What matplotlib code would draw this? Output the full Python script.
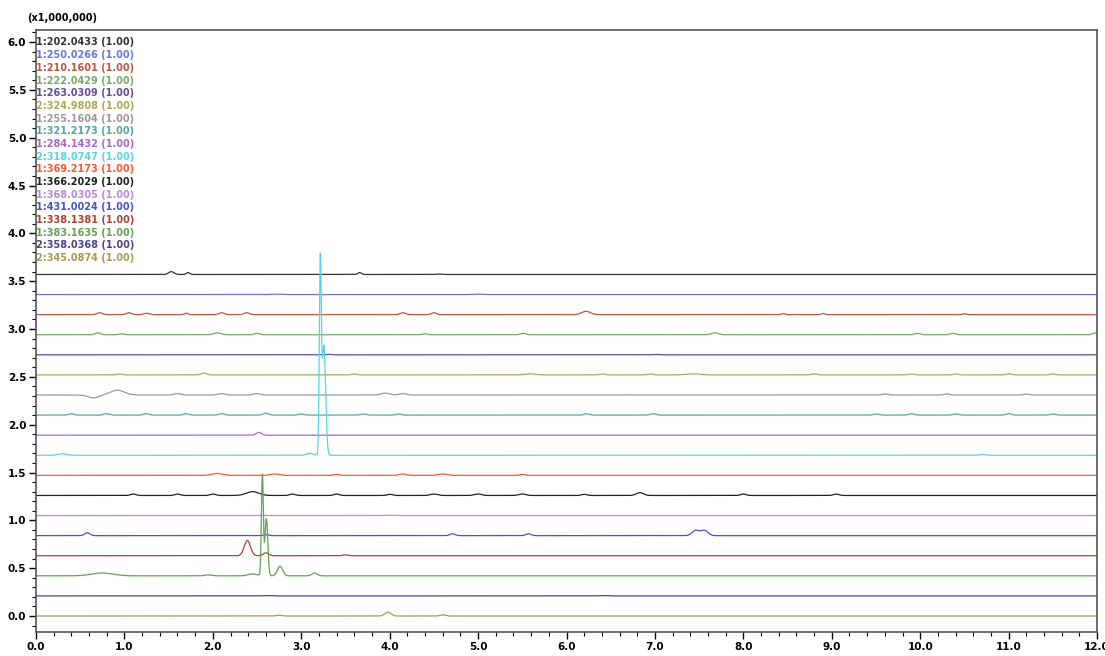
import numpy as np
import matplotlib.pyplot as plt

# legend labels, top to bottom (same order as traces from top to bottom)
labels = [
    "1:202.0433 (1.00)", "1:250.0266 (1.00)", "1:210.1601 (1.00)", "1:222.0429 (1.00)",
    "1:263.0309 (1.00)", "2:324.9808 (1.00)", "1:255.1604 (1.00)", "1:321.2173 (1.00)",
    "1:284.1432 (1.00)", "2:318.0747 (1.00)", "1:369.2173 (1.00)", "1:366.2029 (1.00)",
    "1:368.0305 (1.00)", "1:431.0024 (1.00)", "1:338.1381 (1.00)", "1:383.1635 (1.00)",
    "2:358.0368 (1.00)", "2:345.0874 (1.00)",
]
colors = [
    "#333333", "#6677dd", "#bb5544", "#77aa66",
    "#5e5095", "#aaaa55", "#999999", "#55a5a5",
    "#aa66cc", "#55d5e0", "#ff5533", "#222222",
    "#bb88dd", "#4455cc", "#aa4433", "#66a055",
    "#4e4090", "#aa9955",
]
# baseline of each trace (x1,000,000), top to bottom
baselines = [3.57, 3.36, 3.15, 2.94, 2.73, 2.52, 2.31, 2.10, 1.89, 1.68,
             1.47, 1.26, 1.05, 0.84, 0.63, 0.42, 0.21, 0.0]

# peaks: (retention time min, height x1e6, width min)
peaks = [
    [(1.53, 0.03, 0.03), (1.72, 0.02, 0.02), (3.66, 0.02, 0.02), (4.55, 0.005, 0.03)],
    [(2.7, 0.004, 0.05), (5.0, 0.004, 0.05)],
    [(0.72, 0.02, 0.03), (1.05, 0.02, 0.03), (1.25, 0.015, 0.03), (1.7, 0.015, 0.02),
     (2.1, 0.02, 0.03), (2.38, 0.02, 0.03), (4.15, 0.02, 0.03), (4.5, 0.02, 0.03),
     (6.22, 0.035, 0.05), (8.45, 0.012, 0.02), (8.9, 0.012, 0.02), (10.5, 0.01, 0.02)],
    [(0.7, 0.02, 0.03), (0.97, 0.01, 0.03), (2.05, 0.02, 0.04), (2.5, 0.015, 0.03),
     (4.4, 0.01, 0.03), (5.51, 0.015, 0.03), (7.68, 0.02, 0.04), (9.97, 0.015, 0.03),
     (10.37, 0.015, 0.03), (11.98, 0.02, 0.03)],
    [(3.3, 0.005, 0.03), (7.0, 0.004, 0.03)],
    [(0.95, 0.01, 0.03), (1.9, 0.02, 0.03), (3.6, 0.01, 0.03), (5.59, 0.012, 0.06),
     (6.41, 0.01, 0.03), (6.95, 0.01, 0.03), (7.43, 0.012, 0.08), (8.8, 0.012, 0.03),
     (9.9, 0.01, 0.03), (10.4, 0.01, 0.03), (11.0, 0.012, 0.03), (11.5, 0.01, 0.03)],
    [(0.65, -0.03, 0.06), (0.92, 0.05, 0.08), (1.6, 0.015, 0.04), (2.1, 0.015, 0.04),
     (2.5, 0.015, 0.04), (3.95, 0.02, 0.05), (4.15, 0.015, 0.04), (9.6, 0.012, 0.03),
     (10.3, 0.012, 0.03), (11.2, 0.01, 0.03)],
    [(0.4, 0.015, 0.03), (0.8, 0.015, 0.03), (1.25, 0.015, 0.03), (1.7, 0.015, 0.03),
     (2.1, 0.015, 0.03), (2.6, 0.02, 0.03), (3.0, 0.012, 0.03), (3.7, 0.012, 0.03),
     (4.1, 0.012, 0.03), (6.23, 0.015, 0.03), (6.98, 0.015, 0.03), (9.5, 0.012, 0.03),
     (9.9, 0.015, 0.03), (10.4, 0.012, 0.03), (11.0, 0.015, 0.03), (11.5, 0.012, 0.03)],
    [(2.52, 0.03, 0.03)],
    [(0.3, 0.015, 0.05), (3.1, 0.02, 0.04), (3.215, 1.95, 0.011), (3.255, 1.15, 0.02),
     (10.7, 0.008, 0.04)],
    [(2.05, 0.02, 0.06), (2.7, 0.015, 0.05), (3.4, 0.01, 0.03), (4.15, 0.015, 0.04),
     (4.6, 0.015, 0.05), (5.5, 0.01, 0.03)],
    [(1.1, 0.015, 0.03), (1.6, 0.015, 0.03), (2.0, 0.015, 0.03), (2.45, 0.04, 0.07),
     (2.9, 0.015, 0.03), (3.4, 0.015, 0.03), (4.0, 0.012, 0.03), (4.5, 0.015, 0.04),
     (5.0, 0.015, 0.04), (5.5, 0.015, 0.04), (6.2, 0.012, 0.03), (6.83, 0.03, 0.04),
     (8.0, 0.015, 0.03), (9.05, 0.015, 0.03)],
    [(4.0, 0.004, 0.04)],
    [(0.58, 0.03, 0.03), (2.6, 0.01, 0.03), (4.71, 0.02, 0.03), (5.57, 0.02, 0.03),
     (7.46, 0.055, 0.04), (7.56, 0.055, 0.04)],
    [(2.39, 0.16, 0.035), (2.6, 0.03, 0.03), (3.5, 0.01, 0.03)],
    [(0.75, 0.03, 0.12), (1.95, 0.01, 0.04), (2.45, 0.02, 0.05), (2.56, 1.05, 0.011),
     (2.605, 0.6, 0.016), (2.76, 0.1, 0.03), (3.15, 0.03, 0.03)],
    [(2.6, 0.004, 0.04), (6.4, 0.004, 0.04)],
    [(2.75, 0.008, 0.03), (3.98, 0.04, 0.035), (4.6, 0.012, 0.03)],
]

t = np.linspace(0, 12, 6001)

fig = plt.figure(figsize=(11.05, 6.56), dpi=100)
ax = fig.add_axes([0.0326, 0.0366, 0.9602, 0.9176])

for base, pk, col in zip(baselines, peaks, colors):
    y = np.full_like(t, base)
    for rt, h, w in pk:
        y += h * np.exp(-0.5 * ((t - rt) / w) ** 2)
    ax.plot(t, y, color=col, lw=0.9)

ax.set_xlim(0, 12)
ax.set_ylim(-0.167, 6.125)
ax.set_xticks(np.arange(0, 12.01, 1.0))
ax.set_xticks(np.arange(0, 12.01, 0.2), minor=True)
ax.set_yticks(np.arange(0, 6.01, 0.5))
ax.set_yticks(np.arange(-0.1, 6.11, 0.1), minor=True)
ax.xaxis.set_major_formatter(plt.FormatStrFormatter('%.1f'))
ax.yaxis.set_major_formatter(plt.FormatStrFormatter('%.1f'))
ax.tick_params(which='major', direction='out', length=5, width=1, labelsize=7.5, pad=2)
ax.tick_params(which='minor', direction='out', length=3, width=0.8)
for lab in ax.get_xticklabels() + ax.get_yticklabels():
    lab.set_fontweight('bold')
for s in ax.spines.values():
    s.set_color('#555555')
    s.set_linewidth(1.2)

fig.text(0.025, 0.972, "(x1,000,000)", fontsize=7, fontweight='bold', va='center')

for i, (lab, col) in enumerate(zip(labels, colors)):
    ax.text(0.0, 5.995 - i * 0.1325, lab, color=col, fontsize=7, fontweight='bold',
            va='center', ha='left')

fig.savefig('out.png', dpi=100)
